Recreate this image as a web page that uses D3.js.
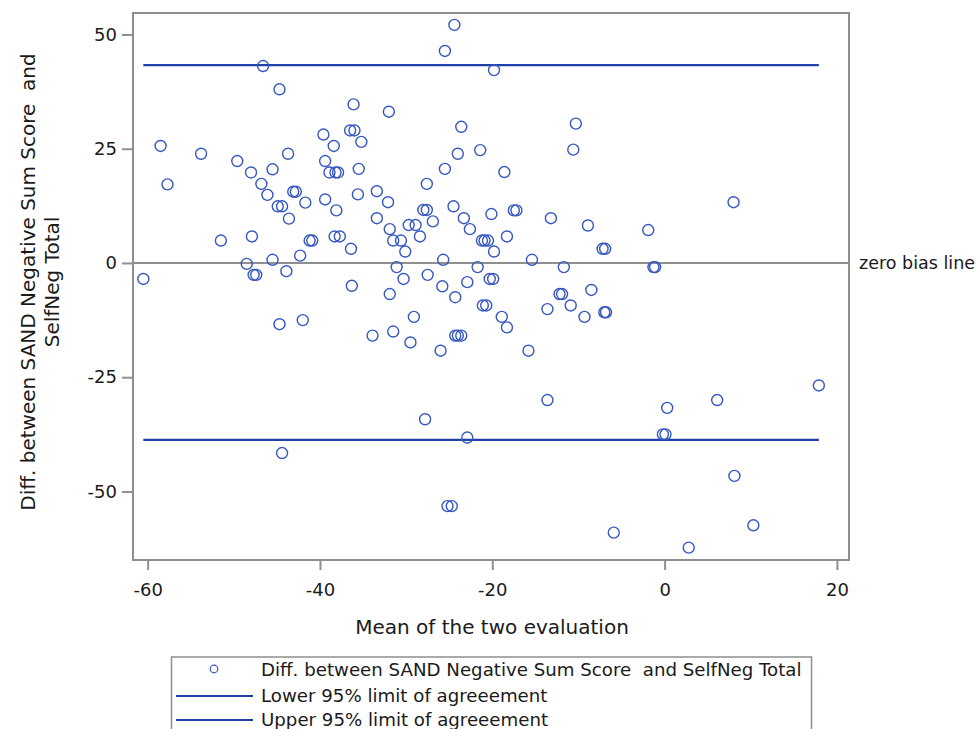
<!DOCTYPE html>
<meta charset="utf-8">
<style>
    body { margin: 0; background: #fff; }
    svg text { font-family: "DejaVu Sans", Verdana, sans-serif; fill: #1a1a1a; white-space: pre; }
</style>
<script src="https://d3js.org/d3.v7.min.js"></script>
<div id="graph"></div>
<script>
    // mean of the two evaluations (x) and their difference (y), one entry per subject
    var meanVals = [-24.4, -25.5, -19.8, -46.6, -44.7, -36.1, -32.0, -10.3, -36.5, -36.0,
        -39.6, -38.4, -35.2, -23.6, -24.0, -21.4, -10.6, -25.5, -18.6, -27.6,
        -35.5, -33.4, -32.1, -35.6, 8.0, -58.5, -53.8, -49.6, -48.0, -45.5,
        -43.7, -57.7, -46.8, -46.1, -43.1, -42.8, -39.4, -38.9, -38.2, -37.9,
        -41.7, -44.9, -44.4, -43.6, -39.4, -38.1, -51.5, -47.9, -41.2, -40.9,
        -38.3, -37.7, -36.4, -42.3, -45.5, -48.5, -47.7, -47.4, -43.9, -60.5,
        -36.3, -44.7, -42.0, -33.9, -33.4, -28.0, -27.6, -24.5, -31.9, -29.7,
        -28.9, -26.9, -23.3, -20.1, -17.5, -17.2, -13.2, -8.9, -22.6, -31.5,
        -30.6, -28.4, -30.1, -21.2, -20.9, -20.5, -18.3, -19.8, -7.2, -6.9,
        -25.7, -15.4, -31.1, -21.7, -11.7, -30.3, -27.5, -20.3, -19.9, -25.8,
        -22.9, -31.9, -24.3, -12.2, -11.9, -8.5, -21.1, -20.7, -13.6, -10.9,
        -9.3, -7.0, -6.8, -29.1, -18.9, -18.3, -31.5, -29.5, -26.0, -24.3,
        -24.0, -23.6, -15.8, -1.9, -1.3, -1.1, 17.9, -44.4, -27.8, -22.9,
        -13.6, -25.2, -24.7, 0.3, 6.1, -0.2, 0.1, 8.1, -5.9, 2.8, 10.3]
    var diffVals = [52.1, 46.4, 42.2, 43.1, 38.0, 34.7, 33.1, 30.5, 29.0, 29.0,
        28.1, 25.6, 26.5, 29.8, 23.9, 24.7, 24.8, 20.6, 19.9, 17.3,
        20.6, 15.7, 13.3, 15.0, 13.3, 25.6, 23.9, 22.3, 19.8, 20.5,
        23.9, 17.2, 17.3, 14.9, 15.6, 15.6, 22.3, 19.8, 19.8, 19.8,
        13.2, 12.4, 12.4, 9.7, 13.9, 11.5, 4.9, 5.8, 4.9, 4.9,
        5.8, 5.8, 3.1, 1.6, 0.7, -0.2, -2.6, -2.6, -1.8, -3.5,
        -5.0, -13.4, -12.5, -15.9, 9.8, 11.6, 11.6, 12.4, 7.4, 8.3,
        8.3, 9.1, 9.8, 10.7, 11.5, 11.5, 9.8, 8.2, 7.4, 4.9,
        4.9, 5.8, 2.5, 4.9, 4.9, 4.9, 5.8, 2.5, 3.1, 3.1,
        0.7, 0.7, -0.9, -0.9, -0.9, -3.5, -2.6, -3.5, -3.5, -5.1,
        -4.2, -6.8, -7.5, -6.8, -6.8, -5.9, -9.3, -9.3, -10.1, -9.3,
        -11.8, -10.8, -10.8, -11.8, -11.8, -14.1, -15.0, -17.4, -19.2, -15.9,
        -15.9, -15.9, -19.2, 7.2, -0.9, -0.9, -26.8, -41.6, -34.2, -38.2,
        -30.0, -53.2, -53.2, -31.7, -30.0, -37.5, -37.5, -46.6, -59.0, -62.3, -57.4]

    var upperLimit = 43.3
    var lowerLimit = -38.7
    var xTicks = [-60, -40, -20, 0, 20]
    var yTicks = [-50, -25, 0, 25, 50]
    var legendLabels = ["Diff. between SAND Negative Sum Score  and SelfNeg Total",
        "Lower 95% limit of agreeement",
        "Upper 95% limit of agreeement"]

    var points = meanVals.map(function (m, i) { return { mean: m, diff: diffVals[i] }; })

    var W = 978, H = 729
    var margin = { top: 13, right: 129, bottom: 169, left: 133 }

    var svg = d3.select("#graph")
        .append("svg")
        .attr("width", W)
        .attr("height", H)

    var x = d3.scaleLinear()
        .domain([-61.7, 21.4])
        .range([margin.left, W - margin.right])
    var y = d3.scaleLinear()
        .domain([-65, 54.7])
        .range([H - margin.bottom, margin.top])

    var blue = "#3557bf"
    var lineBlue = "#1f40a6"
    var gray = "#8f8f8f"

    // axes (plain hyphen for negatives, like the original)
    var fmt = function (d) { return String(d) }
    var xAxis = svg.append("g")
        .attr("transform", "translate(0," + y.range()[0] + ")")
        .call(d3.axisBottom(x).tickValues(xTicks).tickSize(10).tickPadding(13).tickFormat(fmt))
    var yAxis = svg.append("g")
        .attr("transform", "translate(" + x.range()[0] + ",0)")
        .call(d3.axisLeft(y).tickValues(yTicks).tickSize(11).tickPadding(5).tickFormat(fmt))
    ;[xAxis, yAxis].forEach(function (a) {
        a.select(".domain").remove()
        a.selectAll("line").attr("stroke", gray).attr("stroke-width", 2)
        a.selectAll("text").style("font-size", "18px").attr("fill", "#1a1a1a")
    })

    // zero bias line
    svg.append("line")
        .attr("x1", x.range()[0]).attr("x2", x.range()[1])
        .attr("y1", y(0)).attr("y2", y(0))
        .attr("stroke", gray).attr("stroke-width", 2)
    svg.append("text")
        .attr("x", x.range()[1] + 10)
        .attr("y", y(0) + 6)
        .style("font-size", "17.5px")
        .text("zero bias line")

    // limits of agreement
    var xExt = d3.extent(meanVals)
    svg.selectAll(".limit")
        .data([lowerLimit, upperLimit])
        .enter()
        .append("line")
        .attr("class", "limit")
        .attr("x1", x(xExt[0])).attr("x2", x(xExt[1]))
        .attr("y1", function (d) { return y(d) })
        .attr("y2", function (d) { return y(d) })
        .attr("stroke", lineBlue)
        .attr("stroke-width", 2.2)

    // points
    svg.selectAll(".pt")
        .data(points)
        .enter()
        .append("circle")
        .attr("class", "pt")
        .attr("cx", function (d) { return x(d.mean) })
        .attr("cy", function (d) { return y(d.diff) })
        .attr("r", 5.5)
        .attr("fill", "none")
        .attr("stroke", blue)
        .attr("stroke-width", 1.4)

    // frame
    svg.append("rect")
        .attr("x", x.range()[0]).attr("y", y.range()[1])
        .attr("width", x.range()[1] - x.range()[0])
        .attr("height", y.range()[0] - y.range()[1])
        .attr("fill", "none")
        .attr("stroke", gray)
        .attr("stroke-width", 2)

    // axis titles
    svg.append("text")
        .attr("x", 492)
        .attr("y", 634)
        .attr("text-anchor", "middle")
        .style("font-size", "20px")
        .text("Mean of the two evaluation")

    var yTitle = svg.append("text")
        .attr("transform", "translate(35,282) rotate(-90)")
        .attr("text-anchor", "middle")
        .style("font-size", "20px")
    yTitle.append("tspan").attr("x", 0).attr("dy", 0).text("Diff. between SAND Negative Sum Score  and")
    yTitle.append("tspan").attr("x", 0).attr("dy", 24).text("SelfNeg Total")

    // legend
    var lg = svg.append("g")
    lg.append("rect")
        .attr("x", 171.5).attr("y", 657)
        .attr("width", 640).attr("height", 80)
        .attr("fill", "none")
        .attr("stroke", gray)
        .attr("stroke-width", 1.5)
    var rows = [670, 696, 720]
    lg.append("circle")
        .attr("cx", 214).attr("cy", rows[0] - 1)
        .attr("r", 3.8)
        .attr("fill", "none").attr("stroke", blue).attr("stroke-width", 1.2)
    ;[1, 2].forEach(function (i) {
        lg.append("line")
            .attr("x1", 176).attr("x2", 253)
            .attr("y1", rows[i]).attr("y2", rows[i])
            .attr("stroke", lineBlue).attr("stroke-width", 2)
    })
    lg.selectAll(".lt")
        .data(legendLabels)
        .enter()
        .append("text")
        .attr("x", 261)
        .attr("y", function (d, i) { return rows[i] + 6 })
        .style("font-size", "18.2px")
        .text(function (d) { return d })
</script>
